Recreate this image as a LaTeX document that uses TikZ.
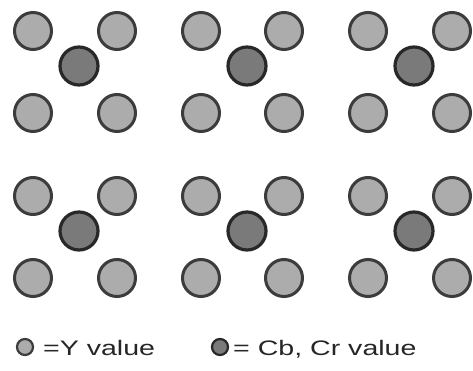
\documentclass[tikz,border=0pt]{standalone}
\usepackage{fontspec}
\setmainfont{Liberation Sans}
\definecolor{yfill}{RGB}{172,172,172}
\definecolor{yline}{RGB}{60,60,60}
\definecolor{cfill}{RGB}{122,122,122}
\definecolor{cline}{RGB}{40,40,40}
\tikzset{
  ydot/.style={circle, draw=yline, fill=yfill, line width=3pt, minimum size=37pt, inner sep=0pt},
  cdot/.style={circle, draw=cline, fill=cfill, line width=3.2pt, minimum size=38pt, inner sep=0pt},
  ykey/.style={circle, draw=yline, fill=yfill, line width=2.2pt, minimum size=16pt, inner sep=0pt},
  ckey/.style={circle, draw=cline, fill=cfill, line width=2.2pt, minimum size=16pt, inner sep=0pt},
  legend/.style={anchor=base west, inner sep=0pt, font=\fontsize{21}{24}\selectfont, text=black!85}
}
\begin{document}
\begin{tikzpicture}[x=1pt, y=-1pt]
\useasboundingbox (0,0) rectangle (473,371);
\fill[white] (0,0) rectangle (473,371);
% Y samples
\foreach \c/\x in {1/33,2/117,3/201,4/284,5/368,6/452}{
  \foreach \r/\y in {1/31,2/113,3/196,4/278}{
    \node[ydot] (y\r\c) at (\x,\y) {};
  }
}
% Cb, Cr samples
\foreach \c/\x in {1/79,2/247,3/414}{
  \foreach \r/\y in {1/66,2/231}{
    \node[cdot] (c\r\c) at (\x,\y) {};
  }
}
% legend
\node[ykey] (ky) at (25,347) {};
\node[legend] (ty) at (43,355) {\scalebox{1.36}[1]{=Y value}};
\node[ckey] (kc) at (220,347) {};
\node[legend] (tc) at (233,355) {\scalebox{1.36}[1]{= Cb, Cr value}};
\end{tikzpicture}
\end{document}
